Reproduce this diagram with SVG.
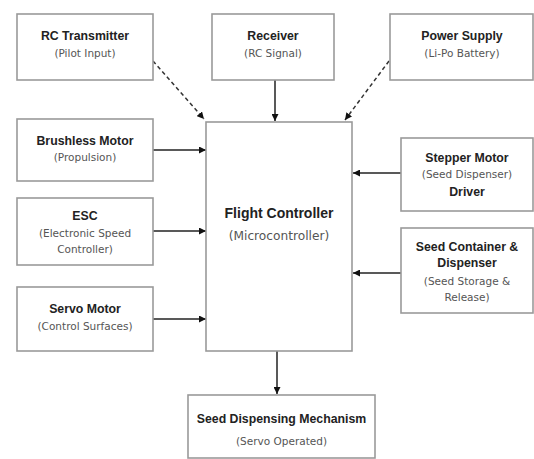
<svg xmlns="http://www.w3.org/2000/svg" width="534" height="459" viewBox="0 0 534 459">
<defs>
<style>
.box{fill:#fff;stroke:#9a9a9a;stroke-width:1.6}
.t{font-family:"Liberation Sans",Arial,sans-serif;font-weight:bold;font-size:12.3px;fill:#222;text-anchor:middle}
.tb{font-family:"Liberation Sans",Arial,sans-serif;font-weight:bold;font-size:14px;fill:#222;text-anchor:middle}
.s{font-family:"DejaVu Sans",sans-serif;font-size:10.5px;fill:#555;text-anchor:middle}
.sb{font-family:"DejaVu Sans",sans-serif;font-size:12.2px;fill:#555;text-anchor:middle}
.ln{stroke:#222;stroke-width:1.5;fill:none}
.dash{stroke:#333;stroke-width:1.5;fill:none;stroke-dasharray:4 3}
</style>
<marker id="ah" viewBox="0 0 10 10" refX="10" refY="5" markerWidth="7" markerHeight="7" markerUnits="userSpaceOnUse" orient="auto">
<path d="M0,0 L10,5 L0,10 z" fill="#111"/>
</marker>
</defs>
<rect width="534" height="459" fill="#fff"/>
<g id="connectors">
<line class="dash" x1="153" y1="61" x2="204" y2="119" marker-end="url(#ah)"/>
<line class="ln" x1="275" y1="80" x2="275" y2="121" marker-end="url(#ah)"/>
<line class="dash" x1="389" y1="61" x2="345" y2="120" marker-end="url(#ah)"/>
<line class="ln" x1="153" y1="150" x2="206" y2="150" marker-end="url(#ah)"/>
<line class="ln" x1="153" y1="231" x2="206" y2="231" marker-end="url(#ah)"/>
<line class="ln" x1="153" y1="319" x2="206" y2="319" marker-end="url(#ah)"/>
<line class="ln" x1="401" y1="173" x2="353" y2="173" marker-end="url(#ah)"/>
<line class="ln" x1="401" y1="273" x2="353" y2="273" marker-end="url(#ah)"/>
<line class="ln" x1="277" y1="351" x2="277" y2="394" marker-end="url(#ah)"/>
</g>
<g id="rc-transmitter">
<rect class="box" x="17" y="14" width="136" height="66"/>
<text class="t" x="85" y="40">RC Transmitter</text>
<text class="s" x="85" y="57">(Pilot Input)</text>
</g>
<g id="receiver">
<rect class="box" x="212" y="14" width="122" height="66"/>
<text class="t" x="273" y="40">Receiver</text>
<text class="s" x="273" y="57">(RC Signal)</text>
</g>
<g id="power-supply">
<rect class="box" x="390" y="14" width="143" height="66"/>
<text class="t" x="462" y="40">Power Supply</text>
<text class="s" x="462" y="57">(Li-Po Battery)</text>
</g>
<g id="brushless-motor">
<rect class="box" x="17" y="119" width="136" height="62"/>
<text class="t" x="85" y="145">Brushless Motor</text>
<text class="s" x="85" y="161">(Propulsion)</text>
</g>
<g id="esc">
<rect class="box" x="17" y="198" width="136" height="67"/>
<text class="t" x="85" y="220">ESC</text>
<text class="s" x="85" y="237">(Electronic Speed</text>
<text class="s" x="85" y="253">Controller)</text>
</g>
<g id="servo-motor">
<rect class="box" x="17" y="287" width="136" height="64"/>
<text class="t" x="85" y="313">Servo Motor</text>
<text class="s" x="85" y="330">(Control Surfaces)</text>
</g>
<g id="flight-controller">
<rect class="box" x="206" y="122" width="146" height="229"/>
<text class="tb" x="279" y="218">Flight Controller</text>
<text class="sb" x="279" y="240">(Microcontroller)</text>
</g>
<g id="stepper-motor">
<rect class="box" x="401" y="138" width="132" height="73"/>
<text class="t" x="467" y="162">Stepper Motor</text>
<text class="s" x="467" y="178">(Seed Dispenser)</text>
<text class="t" x="467" y="196">Driver</text>
</g>
<g id="seed-container">
<rect class="box" x="401" y="228" width="132" height="85"/>
<text class="t" x="467" y="251">Seed Container &amp;</text>
<text class="t" x="467" y="267">Dispenser</text>
<text class="s" x="467" y="285">(Seed Storage &amp;</text>
<text class="s" x="467" y="301">Release)</text>
</g>
<g id="seed-dispensing">
<rect class="box" x="188" y="395" width="187" height="63"/>
<text class="t" x="281.5" y="423">Seed Dispensing Mechanism</text>
<text class="s" x="281.5" y="445">(Servo Operated)</text>
</g>
</svg>
